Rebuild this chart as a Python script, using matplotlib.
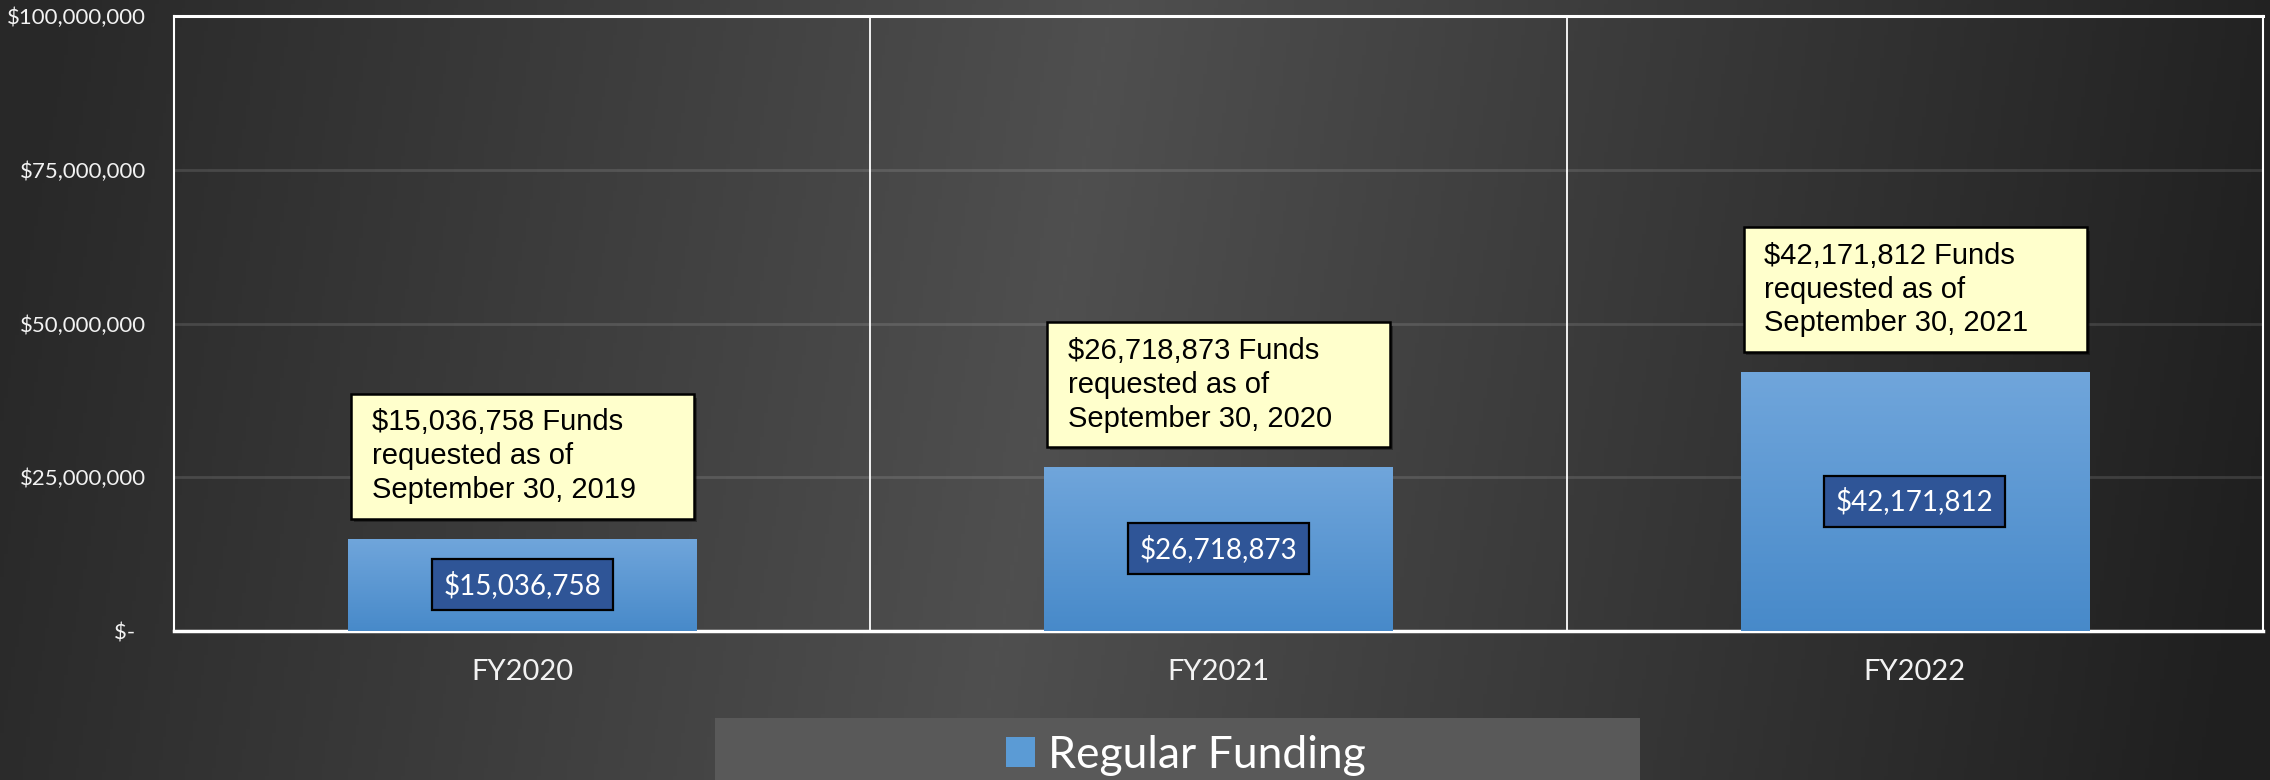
import matplotlib
matplotlib.use("Agg")
import matplotlib.pyplot as plt
import numpy as np
from matplotlib.patches import Rectangle, Patch
from matplotlib.ticker import FuncFormatter

# data
years = ["FY2020", "FY2021", "FY2022"]
funding = [15036758, 26718873, 42171812]
as_of = ["September 30, 2019", "September 30, 2020", "September 30, 2021"]
yticks = [0, 25000000, 50000000, 75000000, 100000000]

W, H = 2270, 780
fig = plt.figure(figsize=(W / 100, H / 100), dpi=100)

# dark gradient background over the whole figure
bg = fig.add_axes([0, 0, 1, 1], zorder=-10)
xs = np.linspace(0, 1, 600)
ys = np.linspace(0, 1, 200)
X, Y = np.meshgrid(xs, ys)
v = np.interp(X + 0.06 * (Y - 0.5), [0, 0.46, 1], [0.16, 0.31, 0.125])
bg.imshow(np.dstack([v, v, v]), aspect="auto", extent=[0, 1, 0, 1])
bg.axis("off")

# legend panel
fig.patches.append(Rectangle((715 / W, 0), 925 / W, 62 / H,
                             transform=fig.transFigure, facecolor="#595959",
                             edgecolor="none", zorder=-5))

ax = fig.add_axes([174 / W, 149 / H, (2263 - 174) / W, (631 - 16) / H])
ax.set_facecolor("none")

x = np.arange(len(years))
bars = ax.bar(x, funding, width=0.5, color="#5b9bd5", zorder=3, label="Regular Funding")

# vertical gradient inside each bar
grad = np.linspace(0, 1, 256).reshape(-1, 1)
top = np.array([0.44, 0.65, 0.86])
bot = np.array([0.28, 0.54, 0.79])
gimg = (bot + (top - bot) * grad[:, :, None] * np.ones((1, 1, 3)))
for b in bars:
    bx, by = b.get_x(), b.get_y()
    bw, bh = b.get_width(), b.get_height()
    im = ax.imshow(gimg, extent=[bx, bx + bw, by, by + bh], origin="lower",
                   aspect="auto", zorder=3.5)
    im.set_clip_path(b)

ax.set_xlim(-0.5, 2.5)
ax.set_ylim(0, 100000000)
ax.set_yticks(yticks)
ax.yaxis.set_major_formatter(FuncFormatter(
    lambda val, pos: "$-  " if val == 0 else "${:,.0f}".format(val)))
ax.set_xticks(x)
ax.set_xticklabels(years)
ax.tick_params(axis="y", length=0, pad=20, labelcolor="#f2f2f2", labelsize=16)
ax.tick_params(axis="x", length=0, pad=20, labelcolor="#f2f2f2", labelsize=21)
for lab in ax.get_xticklabels() + ax.get_yticklabels():
    lab.set_fontfamily("Lato")

ax.yaxis.grid(True, color="white", alpha=0.12, lw=2, zorder=0)
ax.set_axisbelow(True)
for xv in [0.5, 1.5]:
    ax.axvline(xv, color="white", lw=1.3, zorder=1)
for s in ["left", "right", "top", "bottom"]:
    ax.spines[s].set_color("white")
ax.spines["left"].set_linewidth(1.5)
ax.spines["right"].set_linewidth(1.5)
ax.spines["top"].set_linewidth(2.2)
ax.spines["bottom"].set_linewidth(2.5)

for i, val in enumerate(funding):
    # value label in bar
    ax.text(i, val / 2, "${:,.0f}".format(val), ha="center", va="center",
            color="white", fontsize=20, family="Lato", zorder=6,
            bbox=dict(boxstyle="square,pad=0.42", facecolor="#2f5597",
                      edgecolor="black", lw=1.6))
    # callout box above bar
    y0 = val + 3250000
    ax.add_patch(Rectangle((i - 0.242, y0 - 600000), 0.493, 20200000,
                           facecolor="black", alpha=0.35, edgecolor="none",
                           zorder=4.5))
    ax.add_patch(Rectangle((i - 0.246, y0), 0.493, 20200000,
                           facecolor="#ffffcc", edgecolor="black", lw=1.8,
                           zorder=5))
    ax.text(i - 0.216, y0 + 10100000,
            "${:,.0f} Funds\nrequested as of\n{}".format(val, as_of[i]),
            ha="left", va="center", fontsize=21, family="Liberation Sans",
            color="black", linespacing=1.27, zorder=6)

fig.legend(handles=[Patch(facecolor="#5b9bd5", edgecolor="none")],
           labels=["Regular Funding"], loc="center",
           bbox_to_anchor=(1186 / W, 25 / H), frameon=False,
           prop={"family": "Lato", "size": 32}, labelcolor="white",
           handlelength=0.65, handleheight=0.65, handletextpad=0.3)

fig.savefig("out.png", dpi=100)
